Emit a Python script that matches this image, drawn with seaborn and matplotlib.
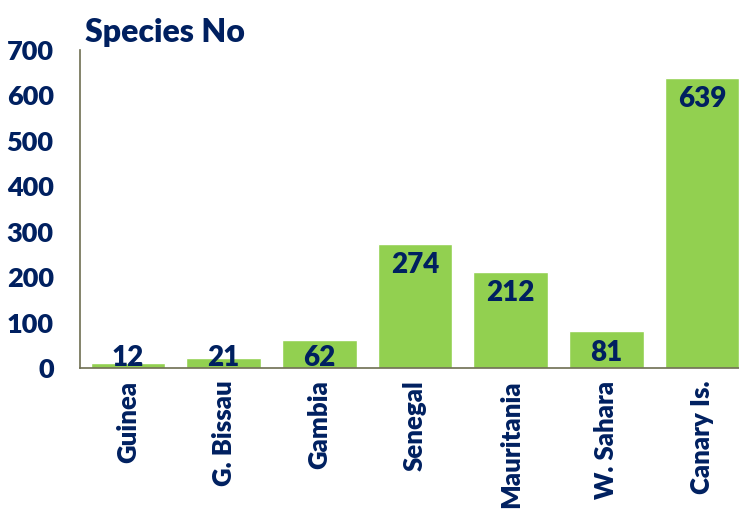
import matplotlib
matplotlib.use('Agg')
import matplotlib.pyplot as plt
import seaborn as sns
import pandas as pd

countries = ['Guinea', 'G. Bissau', 'Gambia', 'Senegal', 'Mauritania', 'W. Sahara', 'Canary Is.']
species = [12, 21, 62, 274, 212, 81, 639]
yticks = [0, 100, 200, 300, 400, 500, 600, 700]

navy = '#002060'
green = '#92D050'
axis_col = '#6E6E52'

sns.set_style('white')
plt.rcParams['font.family'] = ['Lato', 'DejaVu Sans']
wt = 'heavy'

df = pd.DataFrame({'country': countries, 'species': species})

fig = plt.figure(figsize=(7.39, 5.09), dpi=100)
ax = fig.add_axes([0.1083, 0.277, 0.9066, 0.6248])

sns.barplot(data=df, x='country', y='species', color=green, width=0.78,
            saturation=1, ax=ax)

ax.set_ylim(0, 700)
ax.set_yticks(yticks)
ax.set_yticklabels([str(t) for t in yticks], fontweight=wt, fontsize=19.5, color=navy)
ax.set_xticks(range(len(countries)))
ax.set_xticklabels(countries, fontweight=wt, fontsize=18.5, color=navy, rotation=90)
ax.set_xlabel('')
ax.set_ylabel('')
for s in ['top', 'right']:
    ax.spines[s].set_visible(False)
for s in ['left', 'bottom']:
    ax.spines[s].set_color(axis_col)
    ax.spines[s].set_linewidth(1.2)

ax.tick_params(axis='y', length=0, pad=19)
ax.tick_params(axis='x', length=0, pad=9)

# value labels, inside end; small bars sit on the axis
for i, v in enumerate(species):
    if v * 318 / 700 >= 33:
        ax.annotate(str(v), (i, v), xytext=(0, -6), textcoords='offset points',
                    ha='center', va='top', fontsize=20, fontweight=wt, color=navy)
    else:
        ax.annotate(str(v), (i, 0), xytext=(0, -2), textcoords='offset points',
                    ha='center', va='bottom', fontsize=20, fontweight=wt, color=navy)

fig.text(85 / 739, 1 - 42 / 509, 'Species No', fontsize=23, fontweight=wt,
         color=navy, ha='left', va='baseline')

fig.savefig('out.png', dpi=100)
